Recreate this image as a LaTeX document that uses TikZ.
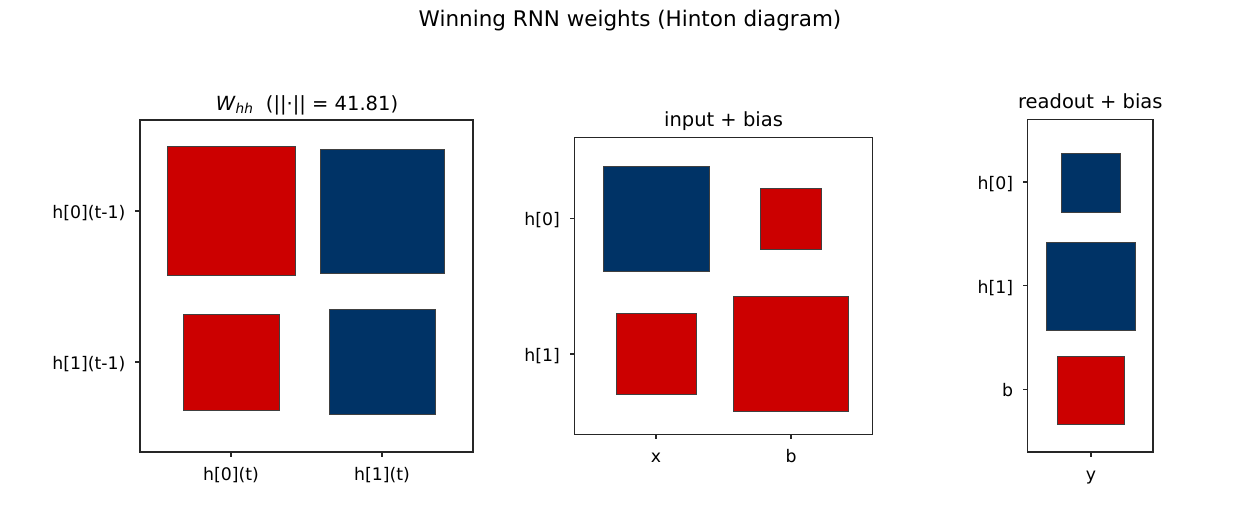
\documentclass[tikz,border=0pt]{standalone}
\usepackage{fontspec}
\setmainfont{DejaVu Sans}
\definecolor{posred}{RGB}{204,0,0}
\definecolor{negblue}{RGB}{0,51,102}
\definecolor{edgegray}{RGB}{64,64,64}
\definecolor{spine}{RGB}{38,38,38}
\begin{document}
\begin{tikzpicture}[x=1pt,y=-1pt,
  axbox/.style={draw=spine,line width=1.1pt},
  possq/.style={fill=posred,draw=edgegray,line width=0.6pt},
  negsq/.style={fill=negblue,draw=edgegray,line width=0.6pt},
  tickmark/.style={draw=spine,line width=1.1pt},
  ylab/.style={anchor=base east,inner sep=0pt,font=\fontsize{17.3}{20}\selectfont},
  xlab/.style={anchor=base,inner sep=0pt,font=\fontsize{17.3}{20}\selectfont},
  ttl/.style={anchor=base,inner sep=0pt,font=\fontsize{19.5}{23}\selectfont},
  suptl/.style={anchor=base,inner sep=0pt,font=\fontsize{21.5}{25}\selectfont}]
\useasboundingbox (0,0) rectangle (1260,504);
\fill[white] (0,0) rectangle (1260,504);
% suptitle
\node[suptl] (sup) at (630,26) {Winning RNN weights (Hinton diagram)};
% ---------- Panel 1 ----------
\node[ttl] (t1) at (307,110) {\textit{W}\textsubscript{\textit{hh}}\ \ (||·|| = 41.81)};
\draw[possq] (167.3,146.3) rectangle (295.7,275.3);
\draw[negsq] (320.3,149) rectangle (444.7,273.7);
\draw[possq] (183,314) rectangle (279,410);
\draw[negsq] (329,309) rectangle (435,414);
\draw[axbox] (140,120) rectangle (473,452);
\coordinate (a1y0) at (140,211);
\coordinate (a1y1) at (140,362);
\coordinate (a1x0) at (231,452);
\coordinate (a1x1) at (382,452);
\draw[tickmark] (a1y0) -- ++(-5,0);
\draw[tickmark] (a1y1) -- ++(-5,0);
\draw[tickmark] (a1x0) -- ++(0,5);
\draw[tickmark] (a1x1) -- ++(0,5);
\node[ylab] (l1y0) at (125.5,218.3) {h[0](t-1)};
\node[ylab] (l1y1) at (125.5,369.3) {h[1](t-1)};
\node[xlab] (l1x0) at (231,480) {h[0](t)};
\node[xlab] (l1x1) at (382,480) {h[1](t)};
% ---------- Panel 2 ----------
\node[ttl] (t2) at (723.5,126) {input + bias};
\draw[negsq] (603.3,166.3) rectangle (709.7,271.7);
\draw[possq] (760,188.3) rectangle (821.7,249.7);
\draw[possq] (616.3,313) rectangle (696.7,394.7);
\draw[possq] (733.3,296.3) rectangle (848.7,411.7);
\draw[axbox] (574.7,137.7) rectangle (872.3,434.3);
\coordinate (a2y0) at (574.7,218.3);
\coordinate (a2y1) at (574.7,354);
\coordinate (a2x0) at (656,434.3);
\coordinate (a2x1) at (791,434.3);
\draw[tickmark] (a2y0) -- ++(-5,0);
\draw[tickmark] (a2y1) -- ++(-5,0);
\draw[tickmark] (a2x0) -- ++(0,5);
\draw[tickmark] (a2x1) -- ++(0,5);
\node[ylab] (l2y0) at (560,225.6) {h[0]};
\node[ylab] (l2y1) at (560,361.3) {h[1]};
\node[xlab] (l2x0) at (656,462.3) {x};
\node[xlab] (l2x1) at (791,462.3) {b};
% ---------- Panel 3 ----------
\node[ttl] (t3) at (1090.3,108) {readout + bias};
\draw[negsq] (1061.3,153.3) rectangle (1120.7,212.3);
\draw[negsq] (1046.3,242) rectangle (1135.7,330.3);
\draw[possq] (1057,356.3) rectangle (1124.7,424.7);
\draw[axbox] (1027.7,119.7) rectangle (1153,452);
\coordinate (a3y0) at (1027.7,182);
\coordinate (a3y1) at (1027.7,285.7);
\coordinate (a3y2) at (1027.7,389.3);
\coordinate (a3x0) at (1091,452);
\draw[tickmark] (a3y0) -- ++(-5,0);
\draw[tickmark] (a3y1) -- ++(-5,0);
\draw[tickmark] (a3y2) -- ++(-5,0);
\draw[tickmark] (a3x0) -- ++(0,5);
\node[ylab] (l3y0) at (1013.3,189.3) {h[0]};
\node[ylab] (l3y1) at (1013.3,293) {h[1]};
\node[ylab] (l3y2) at (1013.3,396.6) {b};
\node[xlab] (l3x0) at (1091,480) {y};
\end{tikzpicture}
\end{document}
